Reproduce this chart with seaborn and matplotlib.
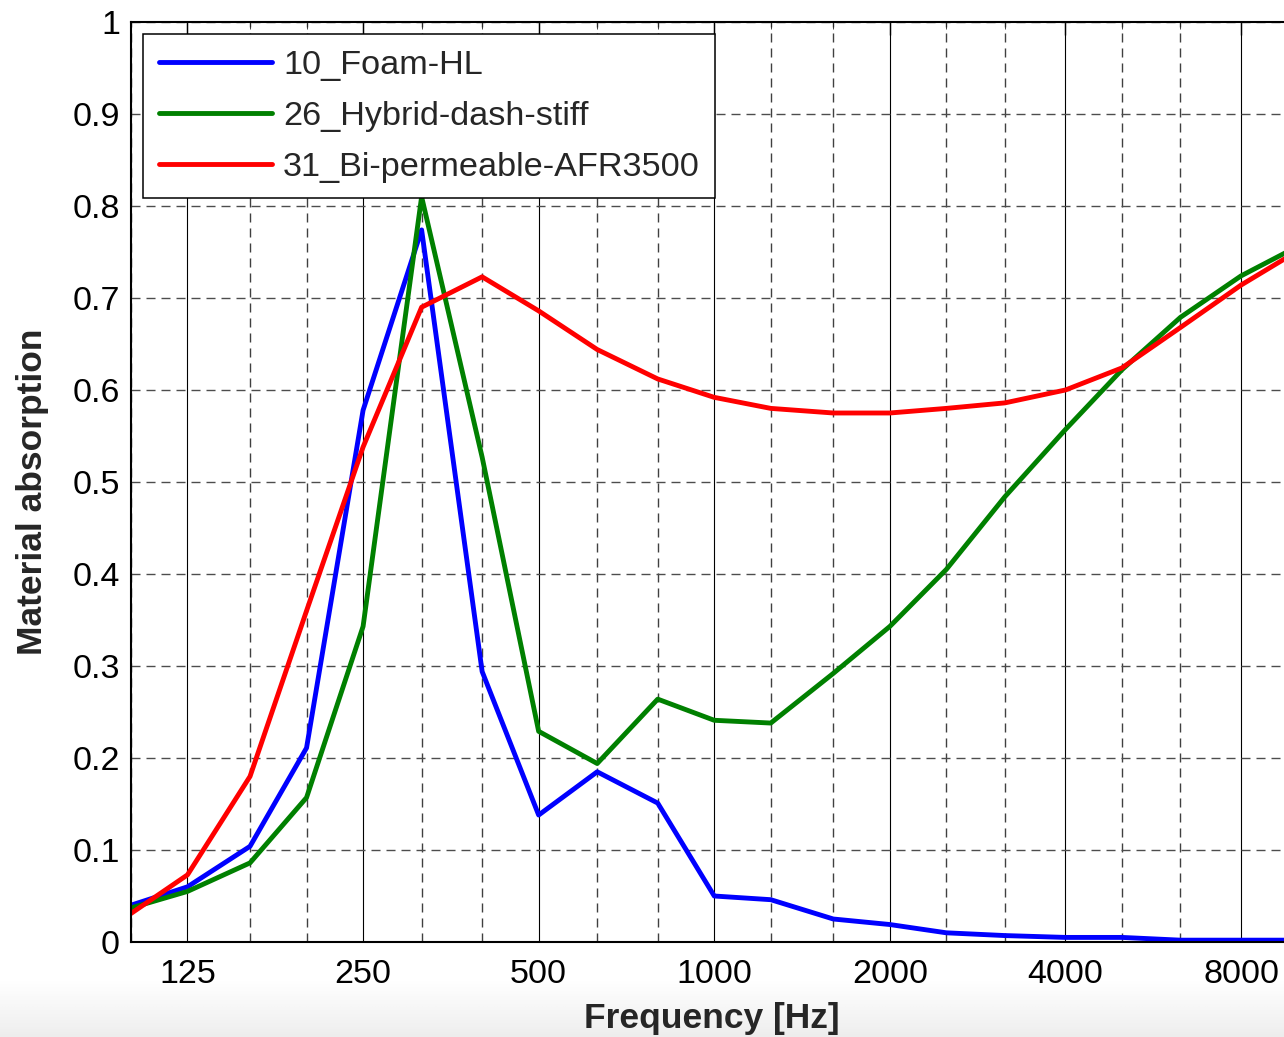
import matplotlib
matplotlib.use('agg')
import numpy as np
import pandas as pd
import matplotlib.pyplot as plt
import seaborn as sns
from matplotlib.ticker import FixedLocator, FixedFormatter, NullFormatter

# third-octave band centres [Hz]
freqs = [100, 125, 160, 200, 250, 315, 400, 500, 630, 800, 1000,
         1250, 1600, 2000, 2500, 3150, 4000, 5000, 6300, 8000, 10000]

foam_hl = [0.040, 0.060, 0.104, 0.211, 0.578, 0.774, 0.294, 0.138, 0.185, 0.151, 0.050,
           0.046, 0.025, 0.019, 0.010, 0.007, 0.005, 0.005, 0.002, 0.002, 0.002]
hybrid_dash = [0.037, 0.055, 0.086, 0.157, 0.343, 0.810, 0.527, 0.229, 0.194, 0.264, 0.241,
               0.238, 0.292, 0.343, 0.405, 0.484, 0.557, 0.622, 0.679, 0.724, 0.756]
bi_perm = [0.031, 0.073, 0.180, 0.360, 0.538, 0.690, 0.723, 0.686, 0.644, 0.612, 0.592,
           0.580, 0.575, 0.575, 0.580, 0.586, 0.600, 0.624, 0.668, 0.714, 0.751]

series_names = ["10_Foam-HL", "26_Hybrid-dash-stiff", "31_Bi-permeable-AFR3500"]
series_colors = ["#0000FF", "#008000", "#FF0000"]

octave_ticks = [125, 250, 500, 1000, 2000, 4000, 8000]
octave_labels = ["125", "250", "500", "1000", "2000", "4000", "8000"]
y_ticks = [0, 0.1, 0.2, 0.3, 0.4, 0.5, 0.6, 0.7, 0.8, 0.9, 1.0]
y_labels = ["0", "0.1", "0.2", "0.3", "0.4", "0.5", "0.6", "0.7", "0.8", "0.9", "1"]

df = pd.concat([
    pd.DataFrame({"freq": freqs, "absorption": vals, "material": name})
    for name, vals in zip(series_names, [foam_hl, hybrid_dash, bi_perm])
], ignore_index=True)

sns.set_style("white")
plt.rcParams['font.family'] = ['Liberation Sans', 'DejaVu Sans']

fig = plt.figure(figsize=(12.84, 10.37), dpi=100)

# faint grey smear below the plot in the source image
bg = fig.add_axes([0, 0, 1, 0.055], zorder=-5)
grad = np.linspace(1.0, 0.0, 50)[:, None] * np.ones((1, 10))
bg.imshow(grad, cmap='Greys_r', vmin=-6, vmax=1, aspect='auto', extent=[0, 1, 0, 1])
bg.set_axis_off()

ax = fig.add_axes([0.102, 0.0916, 0.898, 0.8872])
ax.set_xscale('log')

sns.lineplot(data=df, x="freq", y="absorption", hue="material",
             palette=dict(zip(series_names, series_colors)),
             linewidth=3.5, ax=ax, sort=False)

ax.set_xlim(100, 9480)
ax.set_ylim(0, 1)

ax.xaxis.set_major_locator(FixedLocator(octave_ticks))
ax.xaxis.set_major_formatter(FixedFormatter(octave_labels))
ax.xaxis.set_minor_locator(FixedLocator([f for f in freqs if f not in octave_ticks]))
ax.xaxis.set_minor_formatter(NullFormatter())
ax.yaxis.set_major_locator(FixedLocator(y_ticks))
ax.yaxis.set_major_formatter(FixedFormatter(y_labels))

dash = (0, (6.5, 4.3))
ax.set_axisbelow(True)
ax.grid(which='major', axis='x', color='black', linestyle='-', linewidth=0.8)
ax.grid(which='minor', axis='x', color='0.25', linestyle=dash, linewidth=1.0)
ax.grid(which='major', axis='y', color='0.3', linestyle=dash, linewidth=1.0)

ax.tick_params(axis='both', which='major', direction='in', length=9, width=1,
               top=True, right=False, labelsize=24.5, colors='black')
ax.tick_params(axis='x', which='major', pad=12)
ax.tick_params(axis='y', which='major', pad=8)
ax.tick_params(axis='x', which='minor', direction='in', length=5, top=True)

for side in ['left', 'bottom', 'top']:
    ax.spines[side].set_linewidth(1.5)
    ax.spines[side].set_color('black')
ax.spines['right'].set_visible(False)

ax.set_xlabel("Frequency [Hz]", fontsize=25.5, fontweight='bold')
ax.set_ylabel("Material absorption", fontsize=25.5, fontweight='bold')
ax.xaxis.set_label_coords(0.5035, -0.0655)
ax.yaxis.set_label_coords(-0.0711, 0.489)

handles, labels = ax.get_legend_handles_labels()
leg = ax.legend(handles, labels, loc='upper left', fontsize=24.7, frameon=True,
                fancybox=False, framealpha=1, edgecolor='black',
                handlelength=3.3, handletextpad=0.32, labelspacing=0.58,
                borderpad=0.45, borderaxespad=0.36)
leg.get_frame().set_linewidth(1.1)
for line in leg.get_lines():
    line.set_linewidth(3.5)

fig.savefig("out.png", dpi=100)
